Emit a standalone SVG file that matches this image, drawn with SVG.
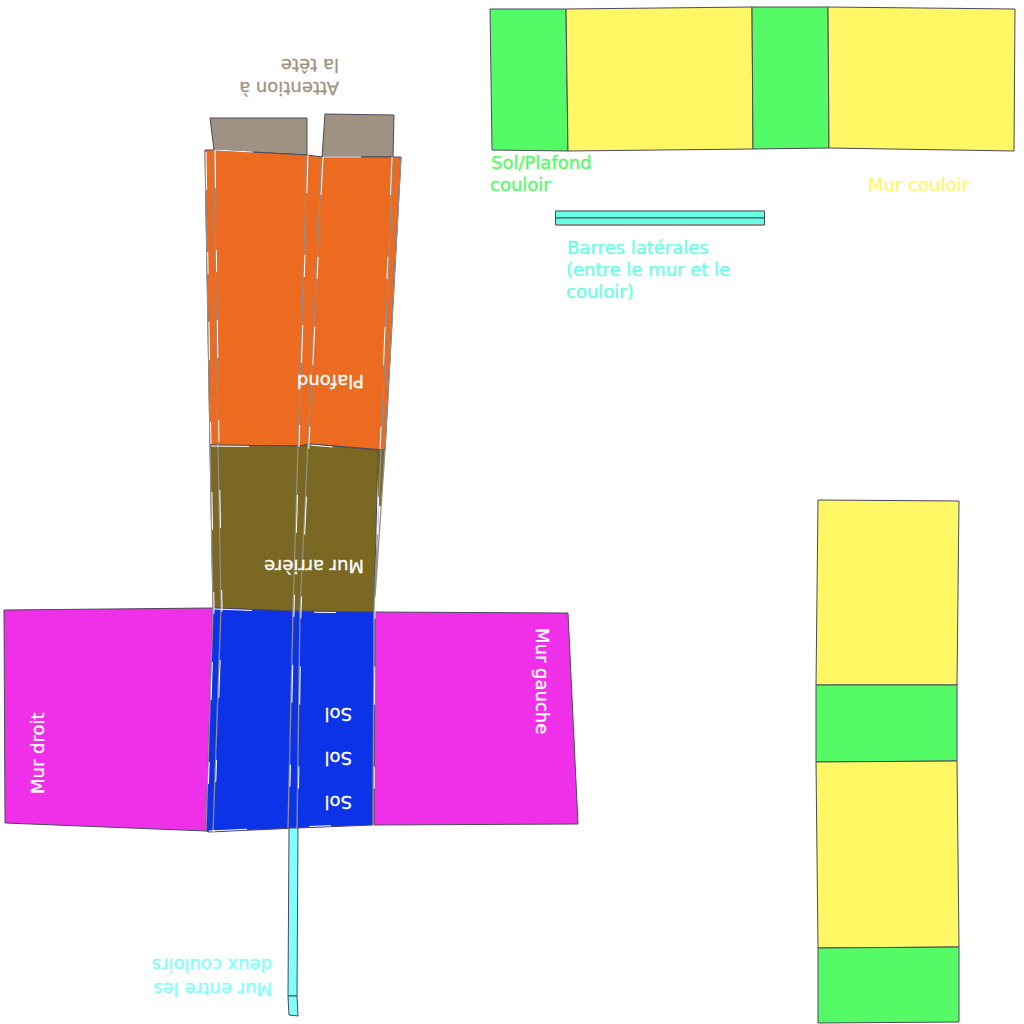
<svg xmlns="http://www.w3.org/2000/svg" width="1024" height="1024" viewBox="0 0 1024 1024">
<style>
.o{stroke:#4a4a5a;stroke-width:1;stroke-linejoin:round}
.s{fill:none;stroke:#8f8f8f;stroke-width:1.3}
.h{fill:none;stroke:#fff;stroke-width:1;stroke-dasharray:38 62 22 48}
.e{fill:none;stroke:#8c8c8c;stroke-width:1.5}
text{font-family:"DejaVu Sans",sans-serif;font-size:18px;stroke-width:.3px}
.w{fill:#fff;stroke:#fff}.g{fill:#55fb66;stroke:#55fb66}.y{fill:#fff763;stroke:#fff763}.c{fill:#66ffe4;stroke:#66ffe4}.l{fill:#80ffff;stroke:#80ffff}.b{fill:#a09282;stroke:#a09282}
</style>
<rect width="1024" height="1024" fill="#fff"/>
<g id="corridor-top">
<polygon class="o" fill="#55fb66" points="490,9 566,9 568,151 492,150"/>
<polygon class="o" fill="#fff763" points="566,9 752,7 753,149 568,151"/>
<polygon class="o" fill="#55fb66" points="752,7 828,7 829,148 753,149"/>
<polygon class="o" fill="#fff763" points="828,7 1015,9 1014,151 829,148"/>
</g>
<g id="corridor-right">
<polygon class="o" fill="#fff763" points="818,500 959,501 957,685 816,685"/>
<polygon class="o" fill="#55fb66" points="816,685 957,685 957,761 816,762"/>
<polygon class="o" fill="#fff763" points="816,762 957,761 959,947 818,948"/>
<polygon class="o" fill="#55fb66" points="818,948 959,947 959,1022 818,1023"/>
</g>
<g id="bars">
<rect class="o" x="555.5" y="211" width="209" height="7" fill="#66ffe4"/>
<rect class="o" x="555.5" y="218" width="209" height="7" fill="#66ffe4"/>
<path class="e" d="M556,211H764M556,225H764"/>
</g>
<g id="head">
<polygon class="o" fill="#a09282" points="210,118 307,118 307,155 214,150"/>
<polygon class="o" fill="#a09282" points="325,114 394,115 393,157 322,157"/>
</g>
<g id="walls">
<polygon class="o" fill="#f030e8" points="4,610 213,608 206,831 5,823"/>
<polygon class="o" fill="#f030e8" points="375,612 568,613 578,824 374,825"/>
</g>
<g id="ceiling">
<polygon class="o" fill="#ec6b20" points="205,150 214,150 307,155 322,157 401,157 385,450 310,444 300,446 210,445"/>
</g>
<g id="back-wall">
<polygon fill="#7a6823" points="378,450 385,450 381,506 378,506"/>
<polygon class="o" fill="#7a6823" points="210,445 300,446 310,444 378,450 374,612 293,611 213,608"/>
</g>
<g id="floor">
<polygon class="o" fill="#0c33e8" points="213,608 293,611 374,612 373,825 297,828 209,832 206,831"/>
</g>
<g id="divider">
<polygon class="o" fill="#80ffff" points="289,828 298,828 297,996 288,996"/>
<polygon class="o" fill="#80ffff" points="288,996 297,996 298,1016 289,1015"/>
</g>
<g id="seams">
<path class="s" d="M205,150 210,445 213,608 206,831M214,150 218,445 221,608 213,832M307,155 298,446 293,611 288,828M322,157 308,444 300,611 297,828M393,157 381,450 374,612 373,825M401,157 385,450 374,612"/>
<path class="h" d="M206,152 211,445 214,608 207,831M215,150 219,445 222,608 214,832M308,155 299,446 294,611 289,828M323,157 309,444 301,611 298,828M392,157 380,450 375,612 374,825M215,150 307,155M323,157 392,157M211,446 300,447 310,445 378,451M214,609 293,612 374,613M209,831 297,827 373,824"/>
</g>
<g id="labels">
<text class="g" x="491" y="169">Sol/Plafond</text>
<text class="g" x="490" y="191">couloir</text>
<text class="y" x="868" y="191">Mur couloir</text>
<text class="c" x="567" y="254">Barres latérales</text>
<text class="c" x="566" y="276">(entre le mur et le</text>
<text class="c" x="566" y="298">couloir)</text>
<text class="b" transform="rotate(180 339 82)" x="339" y="82">Attention à</text>
<text class="b" transform="rotate(180 339 59)" x="339" y="59">la tête</text>
<text class="w" transform="rotate(180 364 375)" x="364" y="375">Plafond</text>
<text class="w" transform="rotate(180 364 560)" x="364" y="560">Mur arrière</text>
<text class="w" transform="rotate(180 352 708)" x="352" y="708">Sol</text>
<text class="w" transform="rotate(180 352 752)" x="352" y="752">Sol</text>
<text class="w" transform="rotate(180 352 796)" x="352" y="796">Sol</text>
<text class="w" transform="rotate(-90 44 794)" x="44" y="794">Mur droit</text>
<text class="w" transform="rotate(90 536 628)" x="536" y="628">Mur gauche</text>
<text class="l" transform="rotate(180 272 983)" x="272" y="983">Mur entre les</text>
<text class="l" transform="rotate(180 272 959)" x="272" y="959">deux couloirs</text>
</g>
</svg>
